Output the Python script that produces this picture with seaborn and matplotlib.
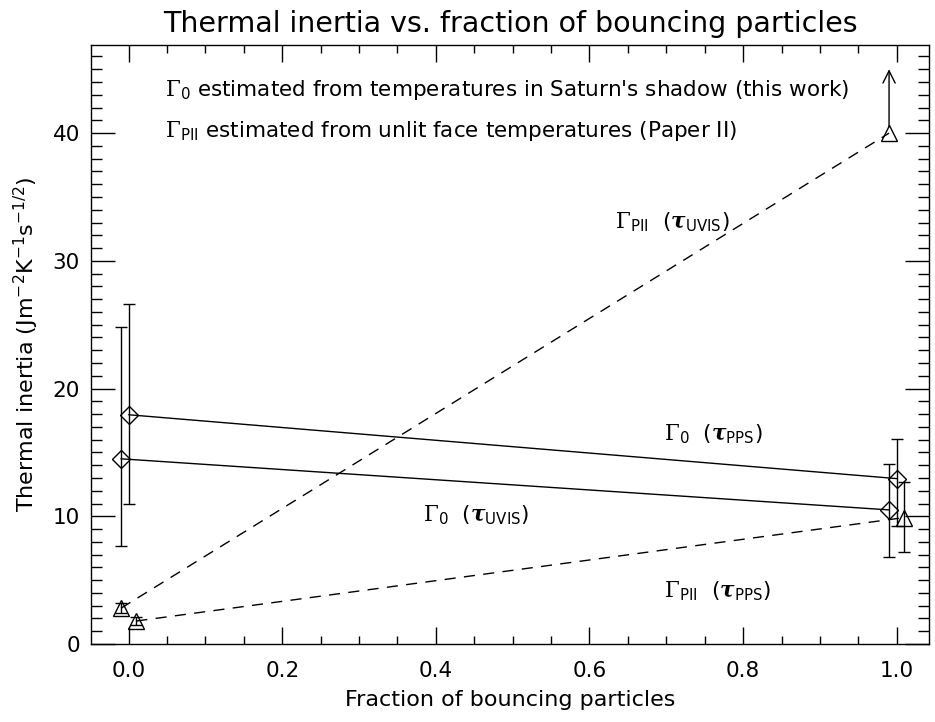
import numpy as np
import pandas as pd
import matplotlib
matplotlib.use("Agg")
import matplotlib.pyplot as plt
from matplotlib.ticker import MultipleLocator
import seaborn as sns

# ---- data ----
x_g0_uvis = [-0.01, 0.99]
g0_uvis = [14.5, 10.5]
g0_uvis_lo = [7.7, 6.8]
g0_uvis_hi = [24.8, 14.1]

x_g0_pps = [0.0, 1.0]
g0_pps = [17.95, 12.95]
g0_pps_lo = [11.0, 9.2]
g0_pps_hi = [26.65, 16.05]

x_pii_uvis = [-0.01, 0.99]
pii_uvis = [2.8, 40.0]
pii_uvis_lo = [2.4, 40.0]
pii_uvis_hi = [3.2, 40.0]
pii_uvis_arrow_top = 45.0

x_pii_pps = [0.01, 1.01]
pii_pps = [1.8, 9.9]
pii_pps_lo = [1.45, 7.2]
pii_pps_hi = [2.15, 12.7]

x_ticks = [0.0, 0.2, 0.4, 0.6, 0.8, 1.0]
y_ticks = [0, 10, 20, 30, 40]

sns.set_theme(style="ticks")
plt.rcParams['font.family'] = ['DejaVu Sans']
plt.rcParams.update({
    'text.color': 'black', 'axes.labelcolor': 'black',
    'xtick.color': 'black', 'ytick.color': 'black',
    'axes.edgecolor': 'black',
    'mathtext.fontset': 'custom',
    'mathtext.rm': 'DejaVu Serif',
    'mathtext.it': 'DejaVu Serif:italic:bold',
    'mathtext.sf': 'DejaVu Sans',
    'mathtext.bf': 'DejaVu Sans:bold',
})

fig = plt.figure(figsize=(9.35, 7.22), dpi=100)
ax = fig.add_axes([91/935, 1-644/722, (929-91)/935, (644-45)/722])

def err(ax, x, y, lo, hi):
    y = np.array(y); lo = np.array(lo); hi = np.array(hi)
    ax.errorbar(x, y, yerr=[y - lo, hi - y], fmt='none', ecolor='black',
                elinewidth=1.0, capsize=4, capthick=1.0, zorder=2)

# Gamma_0 lines (solid) with diamonds
for xs, ys in [(x_g0_uvis, g0_uvis), (x_g0_pps, g0_pps)]:
    sns.lineplot(x=xs, y=ys, ax=ax, color='black', lw=1.0, sort=False,
                 marker='D', markersize=9, markerfacecolor='none',
                 markeredgecolor='black', markeredgewidth=1.0, zorder=3)

# Gamma_PII lines (dashed) with triangles
for xs, ys in [(x_pii_uvis, pii_uvis), (x_pii_pps, pii_pps)]:
    sns.lineplot(x=xs, y=ys, ax=ax, color='black', lw=1.0, sort=False,
                 dashes=False, marker='^', markersize=11,
                 markerfacecolor='none', markeredgecolor='black',
                 markeredgewidth=1.0, zorder=3, linestyle=(0, (8, 6)))

err(ax, x_g0_uvis, g0_uvis, g0_uvis_lo, g0_uvis_hi)
err(ax, x_g0_pps, g0_pps, g0_pps_lo, g0_pps_hi)
err(ax, x_pii_uvis[:1], pii_uvis[:1], pii_uvis_lo[:1], pii_uvis_hi[:1])
err(ax, x_pii_pps, pii_pps, pii_pps_lo, pii_pps_hi)

# lower-limit arrow
ax.annotate('', xy=(x_pii_uvis[1], pii_uvis_arrow_top),
            xytext=(x_pii_uvis[1], pii_uvis[1] + 0.5),
            arrowprops=dict(arrowstyle='->', color='black', lw=1.0,
                            mutation_scale=22, shrinkA=0, shrinkB=0))

# annotations
fs = 15.5
G0 = r"$\Gamma_{\mathsf{0}}$"
GP = r"$\Gamma_{\mathsf{PII}}$"
TU = r"$\tau_{\mathsf{UVIS}}$"
TP = r"$\tau_{\mathsf{PPS}}$"
ax.text(0.047, 43.4, G0 + " estimated from temperatures in Saturn's shadow (this work)",
        fontsize=fs, va='center', ha='left')
ax.text(0.047, 40.2, GP + " estimated from unlit face temperatures (Paper II)",
        fontsize=fs, va='center', ha='left')
ax.text(0.633, 33.0, GP + "  (" + TU + ")", fontsize=fs, va='center', ha='left')
ax.text(0.697, 16.4, G0 + "  (" + TP + ")", fontsize=fs, va='center', ha='left')
ax.text(0.383, 10.1, G0 + "  (" + TU + ")", fontsize=fs, va='center', ha='left')
ax.text(0.697, 4.1, GP + "  (" + TP + ")", fontsize=fs, va='center', ha='left')

ax.set_xlim(-0.049, 1.042)
ax.set_ylim(0, 46.9)
ax.set_xticks(x_ticks)
ax.set_xticklabels([f"{v:.1f}" for v in x_ticks])
ax.set_yticks(y_ticks)
ax.set_yticklabels([str(v) for v in y_ticks])
ax.xaxis.set_minor_locator(MultipleLocator(0.05))
ax.yaxis.set_minor_locator(MultipleLocator(1))
ax.tick_params(which='both', direction='in', top=True, right=True, color='black',
               labelsize=15.5, width=1.0)
ax.tick_params(axis='x', which='major', length=12, pad=12)
ax.tick_params(axis='x', which='minor', length=6)
ax.tick_params(axis='y', which='major', length=17, pad=8)
ax.tick_params(axis='y', which='minor', length=8)
for s in ax.spines.values():
    s.set_linewidth(1.0)
    s.set_color('black')

ax.set_xlabel("Fraction of bouncing particles", fontsize=16, labelpad=7)
ax.set_ylabel(r"Thermal inertia (Jm$^{\mathsf{-2}}$K$^{\mathsf{-1}}$s$^{\mathsf{-1/2}}$)",
              fontsize=16, labelpad=8)
ax.set_title("Thermal inertia vs. fraction of bouncing particles", fontsize=20.5, pad=9)

fig.savefig("out.png", dpi=100)
